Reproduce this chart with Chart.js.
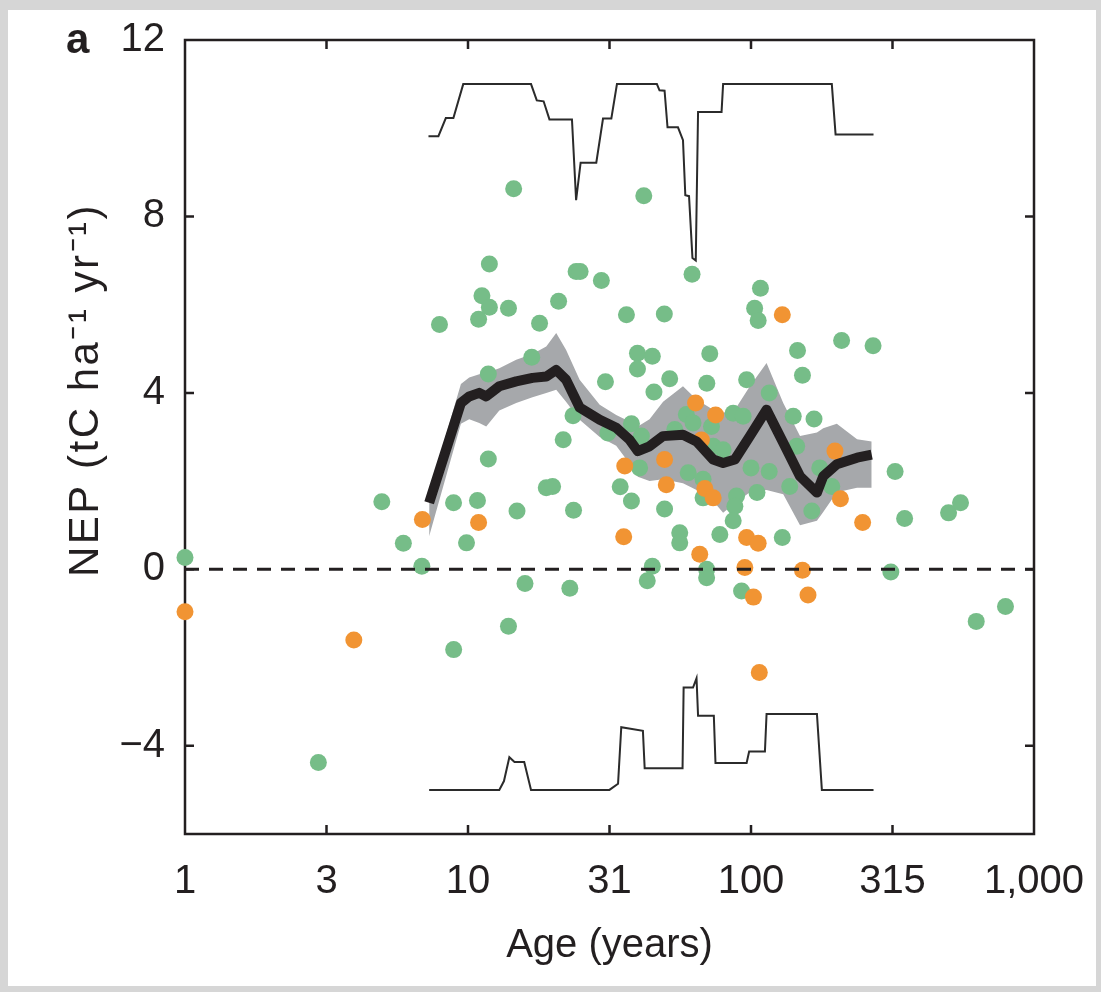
<!DOCTYPE html>
<html>
<head>
<meta charset="utf-8">
<script src="https://cdn.jsdelivr.net/npm/chart.js@4.4.1/dist/chart.umd.min.js"></script>
<style>
  body { margin: 0; background: #d6d6d6; }
  #panel { position: absolute; left: 8px; top: 10px; width: 1088px; height: 976px; background: #fff; }
  #wrap { position: absolute; left: 0; top: 0; width: 1101px; height: 992px; }
</style>
</head>
<body>
<div id="panel"></div>
<div id="wrap"><canvas id="nepChart" width="1101" height="992"></canvas></div>
<script>
// site observations (age in years, NEP in tC ha-1 yr-1)
const greenAge = [1.0, 2.96, 4.96, 5.91, 6.87, 7.93, 8.89, 8.9, 9.88, 10.8,
    11.8, 11.8, 14.9, 15.9, 13.9, 16.8, 18.9, 19.9, 21.7, 23.6,
    22.9, 23.5, 14.5, 41.8, 11.9, 24.1, 24.9, 29.6, 61.9, 11.2,
    11.9, 10.9, 13.9, 20.9, 17.9, 36.3, 49.4, 108, 103, 106,
    39.7, 44.8, 39.7, 71.5, 30.6, 51.6, 45.4, 69.8, 96.5, 37.8,
    41.0, 59.1, 72.5, 86.5, 93.8, 73.5, 79.7, 100, 40.4, 60,
    31.2, 209, 270, 146, 152, 116, 53.8, 62.4, 141, 167,
    145, 175, 323, 116, 67.7, 34.5, 37.8, 67.7, 88.9, 87.7,
    86.5, 105, 137, 164, 193, 349, 499, 550, 49.5, 56,
    56, 77.6, 129, 44.8, 43, 69.7, 69.7, 312, 92.6, 625, 793];
const greenNep = [0.27, -4.38, 1.53, 0.59, 0.07, 5.55, 1.51, -1.82, 0.6, 1.56,
    2.5, 4.43, 1.32, -0.32, -1.29, 4.81, 1.85, 1.88, 2.94, 1.34,
    -0.43, 3.48, 8.63, 8.47, 6.92, 6.75, 6.75, 6.55, 6.69, 6.2,
    5.94, 5.67, 5.92, 6.08, 5.58, 5.77, 5.79, 6.37, 5.92, 5.64,
    4.9, 4.83, 4.54, 4.89, 4.25, 4.32, 4.02, 4.22, 4.3, 3.3,
    3.02, 3.51, 3.24, 3.54, 3.47, 2.79, 2.71, 2.3, 2.3, 2.19,
    3.09, 5.19, 5.07, 4.96, 4.4, 4.0, 3.17, 3.32, 3.47, 3.41,
    2.79, 2.3, 2.22, 2.22, 2.04, 1.87, 1.55, 1.62, 1.66, 1.43,
    1.1, 1.74, 1.88, 1.32, 1.88, 1.15, 1.28, 1.51, 1.37, 0.83,
    0.6, 0.79, 0.72, 0.07, -0.26, 0.0, -0.19, -0.06, -0.49, -1.18, -0.84];

const orangeAge = [1.0, 3.95, 6.9, 10.9, 129, 63.7, 75, 66.8, 198, 35.8,
    49.5, 50.2, 68.7, 73.5, 207, 248, 35.5, 96.5, 106, 65.9,
    95.1, 152, 102, 159, 107];
const orangeNep = [-0.96, -1.6, 1.13, 1.06, 5.77, 3.77, 3.5, 2.93, 2.68, 2.34,
    2.49, 1.92, 1.83, 1.62, 1.6, 1.06, 0.74, 0.72, 0.59, 0.34,
    0.04, -0.02, -0.63, -0.58, -2.34];

// running mean and its uncertainty band
const meanAge = [7.29, 9.44, 10.1, 10.96, 11.6, 12.9, 14.8, 16.9, 18.9, 20.5,
    22.2, 24.8, 29.2, 33.4, 37.2, 39.8, 43.8, 48.9, 57.5, 64.2,
    73.5, 79.7, 87.7, 99.1, 113.5, 130, 149, 171, 180, 201, 237, 267];
const meanNep = [1.51, 3.77, 3.92, 4.0, 3.92, 4.15, 4.26, 4.34, 4.37, 4.52,
    4.30, 3.67, 3.39, 3.21, 2.94, 2.68, 2.79, 3.02, 3.05, 2.90,
    2.49, 2.41, 2.49, 3.02, 3.62, 2.87, 2.11, 1.74, 2.11, 2.38, 2.53, 2.60];
const bandUpper = [1.75, 4.2, 4.35, 4.42, 4.45, 4.56, 4.75, 4.88, 5.05, 5.36,
    4.98, 4.3, 3.73, 3.5, 3.35, 3.24, 3.4, 3.8, 4.15, 3.85,
    3.62, 3.55, 3.62, 4.15, 4.68, 3.77, 3.02, 3.1, 3.2, 3.3, 2.95, 2.9];
const bandLower = [0.75, 3.3, 3.4, 3.32, 3.24, 3.6, 3.77, 3.9, 4.0, 4.07,
    3.8, 3.39, 3.0, 2.8, 2.4, 2.1, 2.0, 2.04, 1.95, 1.8,
    1.55, 1.28, 1.5, 1.75, 1.8, 1.7, 1.0, 1.1, 1.3, 1.75, 1.85, 1.85];

// step traces drawn at the top and bottom of the panel
const topStepAge = [7.25, 7.86, 8.35, 8.88, 9.62, 16.7, 17.5, 18.5, 19.4, 23.3,
    24.1, 25.0, 28.4, 30.0, 32.1, 33.6, 46.5, 47.5, 49.5, 50.7,
    55.2, 57.5, 58.6, 60.4, 62.1, 63.8, 65.0, 78.7, 79.7, 193, 199, 271];
const topStepVal = [9.82, 9.82, 10.23, 10.23, 11.0, 11.0, 10.63, 10.61, 10.2, 10.2,
    8.37, 9.22, 9.22, 10.22, 10.22, 11.0, 11.0, 10.86, 10.85, 10.02,
    10.02, 9.73, 8.48, 8.46, 7.06, 7.0, 10.37, 10.37, 11.0, 11.0, 9.86, 9.86];
const bottomStepAge = [7.29, 12.9, 13.4, 14.0, 14.6, 15.8, 16.7, 31.6, 33.9, 34.8,
    41.5, 42.1, 57.3, 57.8, 62.4, 64.2, 65.0, 73.9, 74.9, 96.5,
    98.5, 112, 113.5, 171, 178, 271];
const bottomStepVal = [-5.0, -5.0, -4.8, -4.26, -4.37, -4.37, -5.0, -5.0, -4.86, -3.58,
    -3.66, -4.51, -4.51, -2.68, -2.68, -2.47, -3.32, -3.32, -4.39, -4.39,
    -4.13, -4.13, -3.28, -3.28, -5.0, -5.0];

const zeroAge = [1, 1000];
const zeroVal = [0, 0];

const xTickValues = [1, 3.1623, 10, 31.623, 100, 316.23, 1000];
const xTickLabels = ['1', '3', '10', '31', '100', '315', '1,000'];
const yTickValues = [-4, 0, 4, 8, 12];

const FONT = '"Liberation Sans", Arial, Helvetica, sans-serif';

function pts(xs, ys) {
    return xs.map((x, i) => ({x: x, y: ys[i]}));
}

// box with inward ticks on all four sides
const framePlugin = {
    id: 'frame',
    beforeDatasetsDraw(chart) {
        const {ctx, chartArea: a, scales} = chart;
        const len = 9;
        ctx.save();
        ctx.strokeStyle = '#231f20';
        ctx.lineWidth = 2.5;
        ctx.strokeRect(a.left, a.top, a.right - a.left, a.bottom - a.top);
        ctx.beginPath();
        xTickValues.slice(1, -1).forEach(v => {
            const px = scales.x.getPixelForValue(v);
            ctx.moveTo(px, a.bottom); ctx.lineTo(px, a.bottom - len);
            ctx.moveTo(px, a.top); ctx.lineTo(px, a.top + len);
        });
        yTickValues.slice(0, -1).forEach(v => {
            const py = scales.y.getPixelForValue(v);
            ctx.moveTo(a.left, py); ctx.lineTo(a.left + len, py);
            ctx.moveTo(a.right, py); ctx.lineTo(a.right - len, py);
        });
        ctx.stroke();
        ctx.restore();
    },
    afterDraw(chart) {
        const {ctx} = chart;
        ctx.save();
        ctx.fillStyle = '#231f20';
        ctx.font = 'bold 42px ' + FONT;
        ctx.textAlign = 'left';
        ctx.textBaseline = 'alphabetic';
        ctx.fillText('a', 66, 53);
        ctx.translate(86, 390);
        ctx.rotate(-Math.PI / 2);
        ctx.font = '42px ' + FONT;
        ctx.letterSpacing = '2.5px';
        ctx.textAlign = 'center';
        ctx.textBaseline = 'middle';
        ctx.fillText('NEP (tC ha\u207B\u00B9 yr\u207B\u00B9)', 0, 0);
        ctx.restore();
    }
};

document.addEventListener('DOMContentLoaded', function () {
    const ctx = document.getElementById('nepChart').getContext('2d');
    const lineBase = {type: 'line', pointRadius: 0, fill: false, tension: 0, clip: false};

    new Chart(ctx, {
        type: 'scatter',
        data: {
            datasets: [
                Object.assign({}, lineBase, {
                    data: pts(zeroAge, zeroVal), borderColor: '#231f20', borderWidth: 3, borderDash: [14, 10]
                }),
                Object.assign({}, lineBase, {
                    data: pts(meanAge, meanNep), borderColor: '#231f20', borderWidth: 10, borderJoinStyle: 'round'
                }),
                Object.assign({}, lineBase, {
                    data: pts(topStepAge, topStepVal), borderColor: '#2b2b2b', borderWidth: 2
                }),
                Object.assign({}, lineBase, {
                    data: pts(bottomStepAge, bottomStepVal), borderColor: '#2b2b2b', borderWidth: 2
                }),
                {
                    data: pts(orangeAge, orangeNep), backgroundColor: '#f19433', borderWidth: 0,
                    pointRadius: 8.5, clip: false
                },
                {
                    data: pts(greenAge, greenNep), backgroundColor: '#76bd88', borderWidth: 0,
                    pointRadius: 8.5, clip: false
                },
                Object.assign({}, lineBase, {
                    data: pts(meanAge, bandUpper), borderWidth: 0, borderColor: 'rgba(0,0,0,0)',
                    backgroundColor: '#a6a8ab', fill: '+1'
                }),
                Object.assign({}, lineBase, {
                    data: pts(meanAge, bandLower), borderWidth: 0, borderColor: 'rgba(0,0,0,0)'
                })
            ]
        },
        options: {
            responsive: false,
            animation: false,
            layout: {padding: {top: 40, right: 67, bottom: 0, left: 0}},
            plugins: {legend: {display: false}, tooltip: {enabled: false}},
            scales: {
                x: {
                    type: 'logarithmic',
                    min: 1,
                    max: 1000,
                    grid: {display: false, drawTicks: false},
                    border: {display: false},
                    afterBuildTicks: scale => { scale.ticks = xTickValues.map(v => ({value: v})); },
                    afterFit: scale => {
                        scale.height = 158;
                        scale.paddingLeft = 0;
                        scale.paddingRight = 0;
                    },
                    ticks: {
                        autoSkip: false, maxRotation: 0, padding: 24, color: '#231f20',
                        font: {family: FONT, size: 40},
                        callback: (value, index) => xTickLabels[index]
                    },
                    title: {
                        display: true, text: 'Age (years)', color: '#231f20',
                        font: {family: FONT, size: 40}, padding: {top: 0, bottom: 22}
                    }
                },
                y: {
                    min: -6,
                    max: 12,
                    grid: {display: false, drawTicks: false},
                    border: {display: false},
                    afterBuildTicks: scale => { scale.ticks = yTickValues.map(v => ({value: v})); },
                    afterFit: scale => {
                        scale.width = 185;
                        scale.paddingTop = 0;
                        scale.paddingBottom = 0;
                    },
                    ticks: {
                        padding: 20, color: '#231f20',
                        font: {family: FONT, size: 40},
                        callback: value => value < 0 ? '\u2212' + Math.abs(value) : String(value)
                    }
                }
            }
        },
        plugins: [framePlugin]
    });
});
</script>
</body>
</html>
